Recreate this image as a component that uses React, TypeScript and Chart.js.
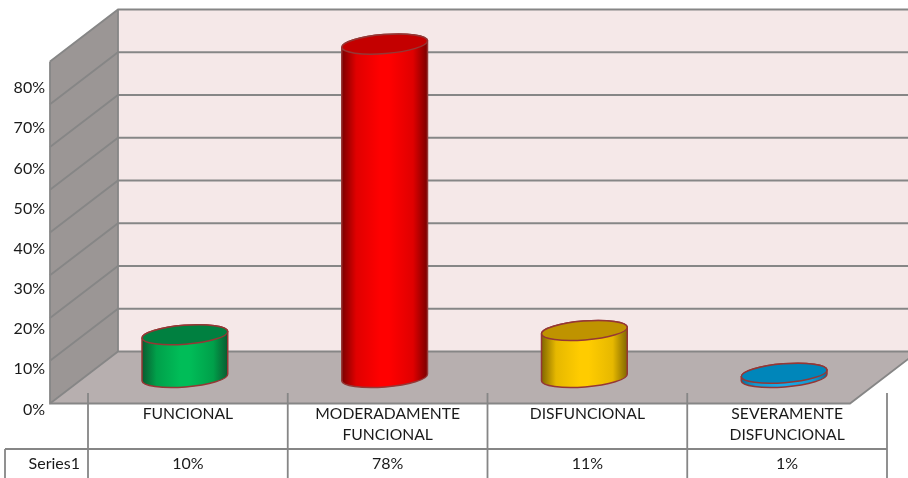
import React, { useEffect, useRef } from "react";
import { Chart, registerables } from "chart.js";

Chart.register(...registerables);

const categories: string[][] = [
  ["FUNCIONAL"],
  ["MODERADAMENTE", "FUNCIONAL"],
  ["DISFUNCIONAL"],
  ["SEVERAMENTE", "DISFUNCIONAL"],
];
const values = [10, 78, 11, 1];
const seriesName = "Series1";
const yTicks = { min: 0, max: 80, step: 10 };

// Cylinder colours: shaded edge, half-lit flank, lit centre, top cap
const edgeColors = ["#0A5A30", "#7A0000", "#806600", "#0A6E99"];
const flankColors = ["#00A04A", "#E00000", "#E6B800", "#1399D0"];
const centerColors = ["#00BD58", "#FF0000", "#FFCC00", "#19A9E6"];
const capColors = ["#008040", "#C40000", "#BF9300", "#0086BA"];
const outline = "#953735";

const gridColor = "#868686";
const backWall = "#F5E8E8";
const sideWall = "#9B9695";
const floorColor = "#B7AFAF";
const textColor = "#1A1A1A";
const fontFamily = "Lato, Carlito, sans-serif";

// Oblique projection of the box: half depth in pixels.
const depthX = 34;
const depthY = 26;
const tiltAngle = (4.5 * Math.PI) / 180;
const capRx = 43;
const capRy = 9.5;
const barShift = -3;

const boxPlugin = {
  id: "box3d",
  // Walls and floor go down first so the axis labels stay on top of them.
  beforeDraw(chart: any) {
    const { ctx, scales } = chart;
    const depth = scales.depth;
    const x = scales.x;
    const left = x.left - 4;
    const top = depth.getPixelForValue(yTicks.max);
    const zero = depth.getPixelForValue(0);
    const wallX = left + depthX;
    const frontX = left - depthX;
    ctx.save();

    // back wall
    ctx.fillStyle = backWall;
    ctx.fillRect(wallX, top - depthY, 908 - wallX, zero - top);

    // left wall
    ctx.fillStyle = sideWall;
    ctx.beginPath();
    ctx.moveTo(frontX, top + depthY);
    ctx.lineTo(wallX, top - depthY);
    ctx.lineTo(wallX, zero - depthY);
    ctx.lineTo(frontX, zero + depthY);
    ctx.closePath();
    ctx.fill();

    // floor
    const frontRight = frontX + 800;
    ctx.fillStyle = floorColor;
    ctx.beginPath();
    ctx.moveTo(frontX, zero + depthY);
    ctx.lineTo(wallX, zero - depthY);
    ctx.lineTo(frontRight + 2 * depthX, zero - depthY);
    ctx.lineTo(frontRight, zero + depthY);
    ctx.closePath();
    ctx.fill();

    // gridlines run along the left wall and across the back wall
    ctx.strokeStyle = gridColor;
    ctx.lineWidth = 1.8;
    for (let v = yTicks.min; v <= yTicks.max; v += yTicks.step) {
      const py = depth.getPixelForValue(v);
      ctx.beginPath();
      ctx.moveTo(frontX, py + depthY);
      ctx.lineTo(wallX, py - depthY);
      ctx.lineTo(908, py - depthY);
      ctx.stroke();
    }

    // box edges
    ctx.beginPath();
    ctx.moveTo(frontX, top + depthY);
    ctx.lineTo(frontX, zero + depthY);
    ctx.lineTo(frontRight, zero + depthY);
    ctx.lineTo(frontRight + 2 * depthX, zero - depthY);
    ctx.moveTo(wallX, top - depthY);
    ctx.lineTo(wallX, zero - depthY);
    ctx.stroke();

    ctx.restore();
  },
  afterDatasetsDraw(chart: any) {
    const { ctx } = chart;
    const bars = chart.getDatasetMeta(0).data;
    ctx.save();
    bars.forEach((bar: any, i: number) => {
      const cx = bar.x + barShift;
      const yTop = bar.y;
      const yBase = bar.base;
      const grad = ctx.createLinearGradient(cx - capRx, 0, cx + capRx, 0);
      grad.addColorStop(0, edgeColors[i]);
      grad.addColorStop(0.17, flankColors[i]);
      grad.addColorStop(0.45, centerColors[i]);
      grad.addColorStop(0.55, centerColors[i]);
      grad.addColorStop(0.83, flankColors[i]);
      grad.addColorStop(1, edgeColors[i]);

      ctx.lineWidth = 1.5;
      ctx.strokeStyle = outline;

      // side of the cylinder
      ctx.beginPath();
      ctx.ellipse(cx, yBase, capRx, capRy, -tiltAngle, 0, Math.PI);
      ctx.ellipse(cx, yTop, capRx, capRy, -tiltAngle, Math.PI, Math.PI * 2);
      ctx.closePath();
      ctx.fillStyle = grad;
      ctx.fill();
      ctx.stroke();

      // top cap
      ctx.beginPath();
      ctx.ellipse(cx, yTop, capRx, capRy, -tiltAngle, 0, Math.PI * 2);
      ctx.fillStyle = capColors[i];
      ctx.fill();
      ctx.stroke();
    });
    ctx.restore();
  },
  afterDraw(chart: any) {
    const { ctx, scales } = chart;
    const x = scales.x;
    const tickX = [0, 1, 2, 3].map((i) => x.getPixelForValue(i) - x.width / 8);
    tickX.push(x.right);
    ctx.save();

    // data table rules
    const ruleTop = 393;
    const rowTop = 449;
    const tableLeft = 5;
    ctx.strokeStyle = gridColor;
    ctx.lineWidth = 1.8;
    ctx.beginPath();
    ctx.moveTo(tableLeft, rowTop);
    ctx.lineTo(x.right, rowTop);
    ctx.moveTo(tableLeft, rowTop);
    ctx.lineTo(tableLeft, 478);
    tickX.forEach((tx) => {
      ctx.moveTo(tx, ruleTop);
      ctx.lineTo(tx, 478);
    });
    ctx.stroke();

    // data table text
    ctx.fillStyle = textColor;
    ctx.font = `16px ${fontFamily}`;
    ctx.textBaseline = "middle";
    ctx.textAlign = "right";
    ctx.fillText(seriesName, 80, 463.5);
    ctx.textAlign = "center";
    values.forEach((v, i) => {
      ctx.fillText(`${v}%`, x.getPixelForValue(i), 464);
    });
    ctx.restore();
  },
};

export default function App() {
  const ref = useRef<HTMLCanvasElement>(null);

  useEffect(() => {
    const chart = new Chart(ref.current as HTMLCanvasElement, {
      type: "bar",
      data: {
        labels: categories,
        datasets: [
          {
            label: seriesName,
            data: values,
            yAxisID: "depth",
            backgroundColor: "rgba(0,0,0,0)",
            barThickness: 86,
          },
        ],
      },
      options: {
        animation: false,
        responsive: false,
        layout: { padding: { top: 88, right: 21, left: 0, bottom: 0 } },
        plugins: { legend: { display: false }, tooltip: { enabled: false } },
        scales: {
          x: {
            grid: { display: false, drawTicks: false },
            border: { display: false },
            afterFit: (s: any) => {
              s.height = 68.5;
            },
            ticks: {
              autoSkip: false,
              maxRotation: 0,
              // Mirrored ticks are not clipped to the axis box, so the first
              // line can sit close under the front edge of the floor.
              mirror: true,
              padding: -15,
              color: textColor,
              font: { family: fontFamily, size: 15.7, lineHeight: "21px" },
            },
          },
          y: {
            position: "left",
            min: yTicks.min,
            max: yTicks.max,
            grid: { display: false, drawTicks: false },
            border: { display: false },
            afterFit: (s: any) => {
              s.width = 88;
            },
            ticks: {
              stepSize: yTicks.step,
              padding: 43,
              color: textColor,
              font: { family: fontFamily, size: 16 },
              callback: (v: any) => `${v}%`,
            },
          },
          // Scale of the marks, in the same percent units, placed at mid depth.
          depth: {
            display: false,
            position: "left",
            min: -7.485,
            max: 67.72,
          },
        },
      },
      plugins: [boxPlugin],
    } as any);
    return () => chart.destroy();
  }, []);

  return (
    <div style={{ position: "absolute", left: 0, top: 0, width: 908, height: 478 }}>
      <canvas ref={ref} width={908} height={478} style={{ display: "block" }} />
    </div>
  );
}
